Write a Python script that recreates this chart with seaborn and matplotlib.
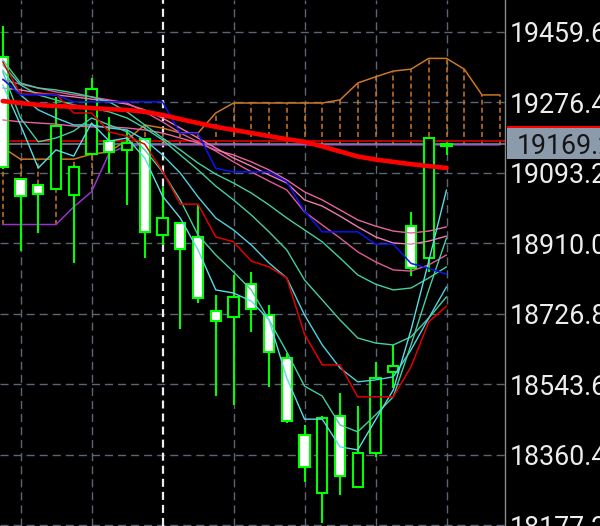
import numpy as np
import matplotlib
matplotlib.use('Agg')
import matplotlib.pyplot as plt
from matplotlib.patches import Rectangle
from matplotlib.transforms import blended_transform_factory
import seaborn as sns

# candles, oldest first
opens = [19395, 19077, 19062, 19051, 19036, 19142, 19176, 19153, 19181, 18932, 18963, 18927, 18734,
         18719, 18804, 18724, 18612, 18412, 18261, 18461, 18277, 18365, 18576, 18955, 18872, 19163]
highs = [19475, 19080, 19064, 19291, 19114, 19340, 19239, 19205, 19184, 19057, 18966, 19010, 18776,
         18828, 18836, 18750, 18625, 18438, 18461, 18521, 18487, 18602, 18646, 18992, 19184, 19170]
lows = [19103, 18890, 18937, 19049, 18859, 19140, 19093, 19010, 18872, 18906, 18687, 18755, 18513,
        18490, 18680, 18537, 18443, 18290, 18183, 18256, 18274, 18355, 18534, 18825, 18836, 19140]
closes = [19109, 19033, 19038, 19215, 19109, 19311, 19148, 19171, 18940, 18976, 18895, 18768, 18708,
          18771, 18739, 18628, 18448, 18329, 18456, 18305, 18365, 18560, 18591, 18846, 19184, 19169.2]

# moving averages (one value per candle)
ma_cyan_fast = [19322, 19218, 19106, 19153, 19137, 19223, 19176, 19184, 19132, 19033, 18976, 18893, 18789,
                18781, 18760, 18711, 18560, 18453, 18453, 18381, 18373, 18451, 18529, 18685, 18864, 19049]
ma_aqua_2 = [19356, 19236, 19174, 19184, 19202, 19236, 19218, 19200, 19153, 19096, 19023, 18932, 18880,
             18836, 18789, 18711, 18628, 18539, 18513, 18438, 18420, 18464, 18511, 18646, 18789, 18924]
ma_cyan_3 = [19361, 19296, 19257, 19236, 19218, 19218, 19210, 19205, 19179, 19140, 19093, 19031, 18976,
             18945, 18906, 18859, 18820, 18724, 18646, 18586, 18550, 18555, 18563, 18633, 18716, 18797]
ma_aqua_4 = [19374, 19322, 19296, 19283, 19270, 19262, 19252, 19236, 19210, 19179, 19140, 19101, 19059,
             19023, 18984, 18940, 18893, 18815, 18763, 18711, 18664, 18651, 18646, 18667, 18716, 18771]
ma_aqua_5 = [19387, 19327, 19314, 19309, 19301, 19291, 19278, 19252, 19218, 19184, 19153, 19119, 19090,
             19067, 19041, 19010, 18976, 18945, 18914, 18872, 18828, 18804, 18789, 18794, 18820, 18849]
ma_pink_fast = [19335, 19324, 19314, 19304, 19296, 19291, 19283, 19275, 19252, 19226, 19197, 19174, 19150,
                19122, 19096, 19072, 19049, 18992, 18958, 18924, 18888, 18862, 18841, 18838, 18854, 18880]
ma_pink_mid = [19314, 19309, 19301, 19296, 19291, 19285, 19280, 19272, 19257, 19236, 19210, 19184, 19158,
               19132, 19111, 19088, 19067, 19023, 19007, 18981, 18953, 18927, 18911, 18908, 18916, 18929]
ma_pink_slow = [19231, 19226, 19223, 19220, 19215, 19213, 19213, 19210, 19205, 19197, 19184, 19171, 19153,
                19140, 19122, 19101, 19075, 19044, 19023, 18997, 18971, 18955, 18942, 18937, 18942, 18953]
ma_red_long = [19280, 19275, 19270, 19267, 19265, 19262, 19259, 19257, 19252, 19244, 19233, 19223, 19213,
               19205, 19197, 19189, 19181, 19174, 19162, 19149, 19136, 19128, 19122, 19116, 19111, 19106]

# ichimoku
tenkan = [19382, 19298, 19298, 19298, 19249, 19249, 19200, 19189, 19168, 19098, 19012, 19012, 18927,
          18914, 18864, 18849, 18820, 18674, 18594, 18594, 18511, 18511, 18511, 18589, 18706, 18747]
kijun = [19337, 19296, 19296, 19296, 19278, 19278, 19278, 19278, 19278, 19278, 19196, 19196, 19105,
         19096, 19096, 19096, 19070, 18994, 18940, 18940, 18940, 18908, 18908, 18858, 18845, 18830]
# spans run 3 bars past the last candle
span_a = [19159, 19129, 19129, 19129, 19129, 19142, 19148, 19179, 19218, 19210, 19197, 19197, 19249,
          19275, 19275, 19275, 19275, 19275, 19275, 19283, 19327, 19343, 19358, 19363, 19391, 19391,
          19363, 19296, 19296]
span_b = [18959, 18959, 18959, 18959, 19005, 19044, 19145, 19163, 19166, 19166, 19166, 19166, 19166,
          19166, 19166, 19166, 19166, 19166, 19166, 19166, 19166, 19166, 19166, 19166, 19166, 19166,
          19166, 19166, 19166]

price_ticks = [19459.6, 19276.4, 19093.2, 18910.0, 18726.8, 18543.6, 18360.4, 18177.2]
bid = 19169.2
ask = 19176.0

sns.set_style('dark', {'axes.facecolor': 'black', 'figure.facecolor': 'black'})
plt.rcParams['font.family'] = ['Roboto', 'DejaVu Sans']
plt.rcParams['lines.scale_dashes'] = False

fig = plt.figure(figsize=(6, 5.26), dpi=100)
ax = fig.add_axes([0, 0, 504.7 / 600, 1])
ax.set_facecolor('black')

idx = np.arange(len(closes))
idx_span = np.arange(len(span_a))
o = np.array(opens)
c = np.array(closes)

# grid
grid_dash = (0, (5.8, 3.6))
for p in price_ticks:
    ax.axhline(p, color='#5B6674', lw=1, ls=grid_dash, zorder=0.5)
for i in [1, 5, 13, 17, 21, 25]:
    ax.axvline(i, color='#5B6674', lw=1, ls=grid_dash, zorder=0.5)
ax.axvline(9, color='#EDEDED', lw=1.6, ls=grid_dash, zorder=0.5)

# kumo hatch
sa = np.array(span_a)
sb = np.array(span_b)
ax.vlines(idx_span, sb, sa, colors=np.where(sa >= sb, '#CC7722', '#9932CC'),
          lw=1.1, linestyles=[(0, (3.6, 2.2))], zorder=1)
sns.lineplot(x=idx_span, y=span_a, color='#CC7722', lw=1.1, ax=ax, zorder=2)
sns.lineplot(x=idx_span, y=span_b, color='#9932CC', lw=1.1, ax=ax, zorder=2)

# bid / ask
ax.axhline(ask, color='#C80000', lw=1.3, zorder=2.4)
ax.axhline(bid, color='#7E8C9C', lw=1.1, zorder=2.3)

# candles
ax.vlines(idx, lows, highs, color='#00FF00', lw=1.5, zorder=2.9)
ax.bar(idx, np.abs(c - o), bottom=np.minimum(o, c), width=0.58,
       color=np.where(c < o, 'white', 'black'), edgecolor='#00FF00', linewidth=1.5, zorder=3)

# moving averages
thin = [
    (ma_pink_slow, '#E8649E'),
    (ma_pink_mid, '#F07AB2'),
    (ma_pink_fast, '#E25A98'),
    (ma_aqua_5, '#45CFA0'),
    (ma_aqua_4, '#45CFA0'),
    (ma_cyan_3, '#4FD2E0'),
    (ma_aqua_2, '#45CFA0'),
    (ma_cyan_fast, '#5ADDE6'),
]
for vals, col in thin:
    sns.lineplot(x=idx, y=vals, color=col, lw=1.0, ax=ax, zorder=4)
sns.lineplot(x=idx, y=tenkan, color='#E00000', lw=1.1, ax=ax, zorder=5)
sns.lineplot(x=idx, y=kijun, color='#0A14F0', lw=1.1, ax=ax, zorder=5)
sns.lineplot(x=idx, y=ma_red_long, color='#FF0000', lw=3.3, ax=ax, zorder=6)

ax.set_xlim(-2.75 / 17.75, (504.7 - 2.75) / 17.75)
ax.set_ylim(18175.2, 19542.8)
ax.set_xlabel('')
ax.set_ylabel('')
ax.set_xticks([])
ax.yaxis.tick_right()
ax.set_yticks(price_ticks, [f'{p:.1f}' for p in price_ticks])
ax.tick_params(axis='y', length=0, pad=3.8, labelsize=19.3, labelcolor='#EDEDED')
ax.grid(False)
for side in ['top', 'left', 'bottom']:
    ax.spines[side].set_visible(False)
ax.spines['right'].set_color('#8A8A8A')
ax.spines['right'].set_linewidth(1)

# price labels on the scale
tr = blended_transform_factory(fig.transFigure, ax.transData)
fig.patches.append(Rectangle((506.7 / 600, ask - 40), 0.2, 80, transform=tr,
                             facecolor='#FF0000', edgecolor='none', zorder=5))
fig.patches.append(Rectangle((506.7 / 600, bid - 40), 0.2, 80, transform=tr,
                             facecolor='#8C9BAB', edgecolor='none', zorder=6))
fig.text(517 / 600, bid, f'{bid:.1f}', transform=tr, color='#151515', fontsize=19.3,
         va='center_baseline', ha='left', zorder=7)

fig.savefig('out.png', dpi=100, facecolor='black')
